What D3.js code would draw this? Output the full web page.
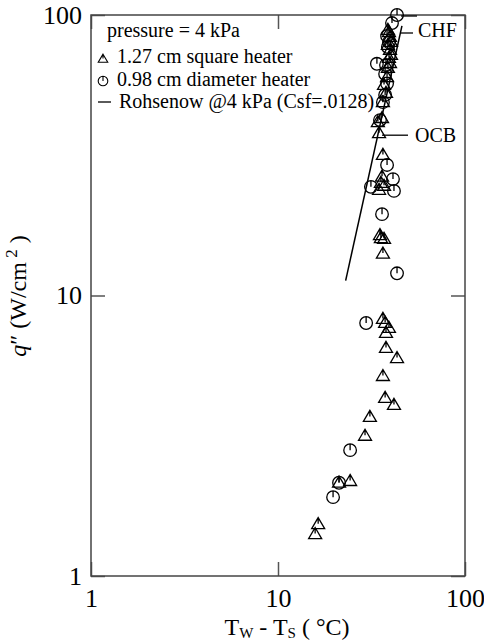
<!DOCTYPE html>
<html>
<head>
<meta charset="utf-8">
<script src="https://cdn.jsdelivr.net/npm/d3@7"></script>
<style>
  body { margin: 0; background: #fff; }
  svg { display: block; }
  text { font-family: "Liberation Serif", "DejaVu Serif", serif; fill: #000; }
</style>
</head>
<body>
<svg id="chart" width="484" height="640"></svg>
<script>
// tick values for both log axes
const xTicks = [1, 10, 100];
const yTicks = [1, 10, 100];

// 1.27 cm square heater  [Tw - Ts (C), q'' (W/cm2)]
const squareHeater = [
  [15.8, 1.41], [16.4, 1.53], [21.2, 2.15], [24.3, 2.18], [29.2, 3.16],
  [31.0, 3.69], [41.7, 4.07], [37.4, 4.31], [36.4, 5.16], [43.3, 5.98],
  [37.8, 6.50], [37.8, 7.35], [39.2, 7.66], [37.4, 7.98], [36.4, 8.25],
  [36.4, 14.1], [35.1, 16.4], [35.5, 16.0], [36.9, 15.9],
  [34.7, 23.8], [35.5, 25.2], [36.9, 24.6], [36.0, 26.5], [36.4, 31.7],
  [34.7, 37.9], [34.2, 41.5], [36.0, 42.9], [36.4, 48.9], [37.8, 52.7],
  [36.9, 56.3], [38.3, 60.0], [38.7, 64.7], [39.7, 67.4], [39.2, 70.3],
  [40.2, 72.0], [39.7, 75.0], [38.7, 78.2], [40.2, 80.1], [39.7, 83.5],
  [39.2, 86.9], [38.7, 88.5]
];

// 0.98 cm diameter heater
const diameterHeater = [
  [19.7, 1.91], [21.2, 2.15], [24.3, 2.81], [29.6, 7.98],
  [43.3, 12.0], [36.0, 19.5], [41.7, 23.6], [31.4, 24.4], [41.2, 26.0],
  [38.3, 29.2], [35.1, 42.2], [36.4, 48.9], [37.4, 51.9], [38.3, 57.0],
  [37.4, 61.6], [37.8, 66.3], [33.8, 67.0], [38.7, 76.9], [39.2, 80.0],
  [38.3, 84.2], [40.7, 93.6], [43.3, 100]
];

// Rohsenow correlation @4 kPa, end points
const rohsenow = [[23.0, 11.3], [46.0, 91.5]];

const legendLines = [
  "pressure = 4 kPa",
  "1.27 cm square heater",
  "0.98 cm diameter heater",
  "Rohsenow @4 kPa (Csf=.0128)"
];

const width = 484, height = 640;
const margin = { top: 15, right: 19, bottom: 64, left: 91 };

const svg = d3.select("#chart");

const x = d3.scaleLog()
  .domain([1, 100])
  .range([margin.left, width - margin.right]);

const y = d3.scaleLog()
  .domain([1, 100])
  .range([height - margin.bottom, margin.top]);

const frameColor = "#444";
const tickLen = 14;

// ticks, inward on all four sides
const xAxis = d3.axisBottom(x).tickValues(xTicks).tickFormat(d3.format("d"))
  .tickSizeInner(-tickLen).tickSizeOuter(0).tickPadding(13);
const yAxis = d3.axisLeft(y).tickValues(yTicks).tickFormat(d3.format("d"))
  .tickSizeInner(-tickLen).tickSizeOuter(0).tickPadding(9);
const xTop = d3.axisTop(x).tickValues(xTicks).tickFormat("")
  .tickSizeInner(-tickLen).tickSizeOuter(0);
const yRight = d3.axisRight(y).tickValues(yTicks).tickFormat("")
  .tickSizeInner(-tickLen).tickSizeOuter(0);

function styleAxis(g) {
  g.select(".domain").remove();
  g.selectAll(".tick line").attr("stroke", "#555").attr("stroke-width", 1.5);
  g.selectAll(".tick text")
    .attr("font-family", "Liberation Serif, serif")
    .attr("font-size", 26)
    .attr("fill", "#000");
}

svg.append("g")
  .attr("transform", `translate(0,${height - margin.bottom})`)
  .call(xAxis).call(styleAxis);
svg.append("g")
  .attr("transform", `translate(${margin.left},0)`)
  .call(yAxis).call(styleAxis);
svg.append("g")
  .attr("transform", `translate(0,${margin.top})`)
  .call(xTop).call(styleAxis);
svg.append("g")
  .attr("transform", `translate(${width - margin.right},0)`)
  .call(yRight).call(styleAxis);

svg.append("rect")
  .attr("x", margin.left)
  .attr("y", margin.top)
  .attr("width", width - margin.left - margin.right)
  .attr("height", height - margin.top - margin.bottom)
  .attr("fill", "none")
  .attr("stroke", frameColor)
  .attr("stroke-width", 1.5);

// Rohsenow line
svg.append("path")
  .datum(rohsenow)
  .attr("fill", "none")
  .attr("stroke", "#000")
  .attr("stroke-width", 1.5)
  .attr("d", d3.line().x(d => x(d[0])).y(d => y(d[1])));

// marker shapes
function trianglePath(s) {
  const h = s * 0.85;
  return `M0,${-h * 0.6}L${s / 2},${h * 0.4}L${-s / 2},${h * 0.4}Z` +
    `M0,${-h * 0.6}L0,${-h * 0.05}`;
}
function circlePath(r) {
  return `M${r},0A${r},${r} 0 1,1 ${-r},0A${r},${r} 0 1,1 ${r},0Z` +
    `M0,${-r}L0,0`;
}

svg.append("g")
  .selectAll("path")
  .data(diameterHeater)
  .join("path")
  .attr("transform", d => `translate(${x(d[0])},${y(d[1])})`)
  .attr("d", circlePath(6.3))
  .attr("fill", "none")
  .attr("stroke", "#000")
  .attr("stroke-width", 1.3);

svg.append("g")
  .selectAll("path")
  .data(squareHeater)
  .join("path")
  .attr("transform", d => `translate(${x(d[0])},${y(d[1])})`)
  .attr("d", trianglePath(13))
  .attr("fill", "none")
  .attr("stroke", "#000")
  .attr("stroke-width", 1.3);

// annotations CHF and OCB
const ann = svg.append("g");
ann.append("line")
  .attr("x1", x(43.3) + 4).attr("x2", 417)
  .attr("y1", y(100) + 1).attr("y2", y(100) + 1)
  .attr("stroke", "#000").attr("stroke-width", 1.3);
ann.append("line")
  .attr("x1", 400).attr("x2", 413)
  .attr("y1", 33).attr("y2", 33)
  .attr("stroke", "#000").attr("stroke-width", 1.3);
ann.append("text")
  .attr("x", 418).attr("y", 37)
  .attr("font-size", 20)
  .text("CHF");
ann.append("line")
  .attr("x1", x(34.7) + 3).attr("x2", 408)
  .attr("y1", y(37.9) + 2).attr("y2", y(37.9) + 2)
  .attr("stroke", "#000").attr("stroke-width", 1.3);
ann.append("text")
  .attr("x", 415).attr("y", 142)
  .attr("font-size", 20)
  .text("OCB");

// legend
const lg = svg.append("g").attr("font-size", 20);
lg.append("text").attr("x", 107).attr("y", 37).text(legendLines[0]);
lg.append("path")
  .attr("transform", "translate(103,59)")
  .attr("d", trianglePath(9.5))
  .attr("fill", "none").attr("stroke", "#000").attr("stroke-width", 1.1);
lg.append("text").attr("x", 117).attr("y", 63).text(legendLines[1]);
lg.append("path")
  .attr("transform", "translate(103,81)")
  .attr("d", circlePath(4.8))
  .attr("fill", "none").attr("stroke", "#000").attr("stroke-width", 1.1);
lg.append("text").attr("x", 117).attr("y", 86).text(legendLines[2]);
lg.append("line")
  .attr("x1", 98).attr("x2", 111).attr("y1", 102).attr("y2", 102)
  .attr("stroke", "#000").attr("stroke-width", 1.3);
lg.append("text").attr("x", 119).attr("y", 108).text(legendLines[3]);

// axis titles
const xt = svg.append("text")
  .attr("x", 287).attr("y", 635)
  .attr("text-anchor", "middle")
  .attr("font-size", 24);
xt.append("tspan").text("T");
xt.append("tspan").attr("font-size", 15).attr("dy", 3).text("W");
xt.append("tspan").attr("dy", -3).text(" - T");
xt.append("tspan").attr("font-size", 15).attr("dy", 3).text("S");
xt.append("tspan").attr("dy", -3).text(" ( \u00B0C)");

const yt = svg.append("text")
  .attr("transform", "translate(26,296) rotate(-90)")
  .attr("text-anchor", "middle")
  .attr("font-size", 24);
yt.append("tspan").attr("font-style", "italic").text("q");
yt.append("tspan").text("\u2033 (W/cm");
yt.append("tspan").attr("font-size", 17).attr("dy", -9).text(" 2");
yt.append("tspan").attr("dy", 9).text(" )");
</script>
</body>
</html>
